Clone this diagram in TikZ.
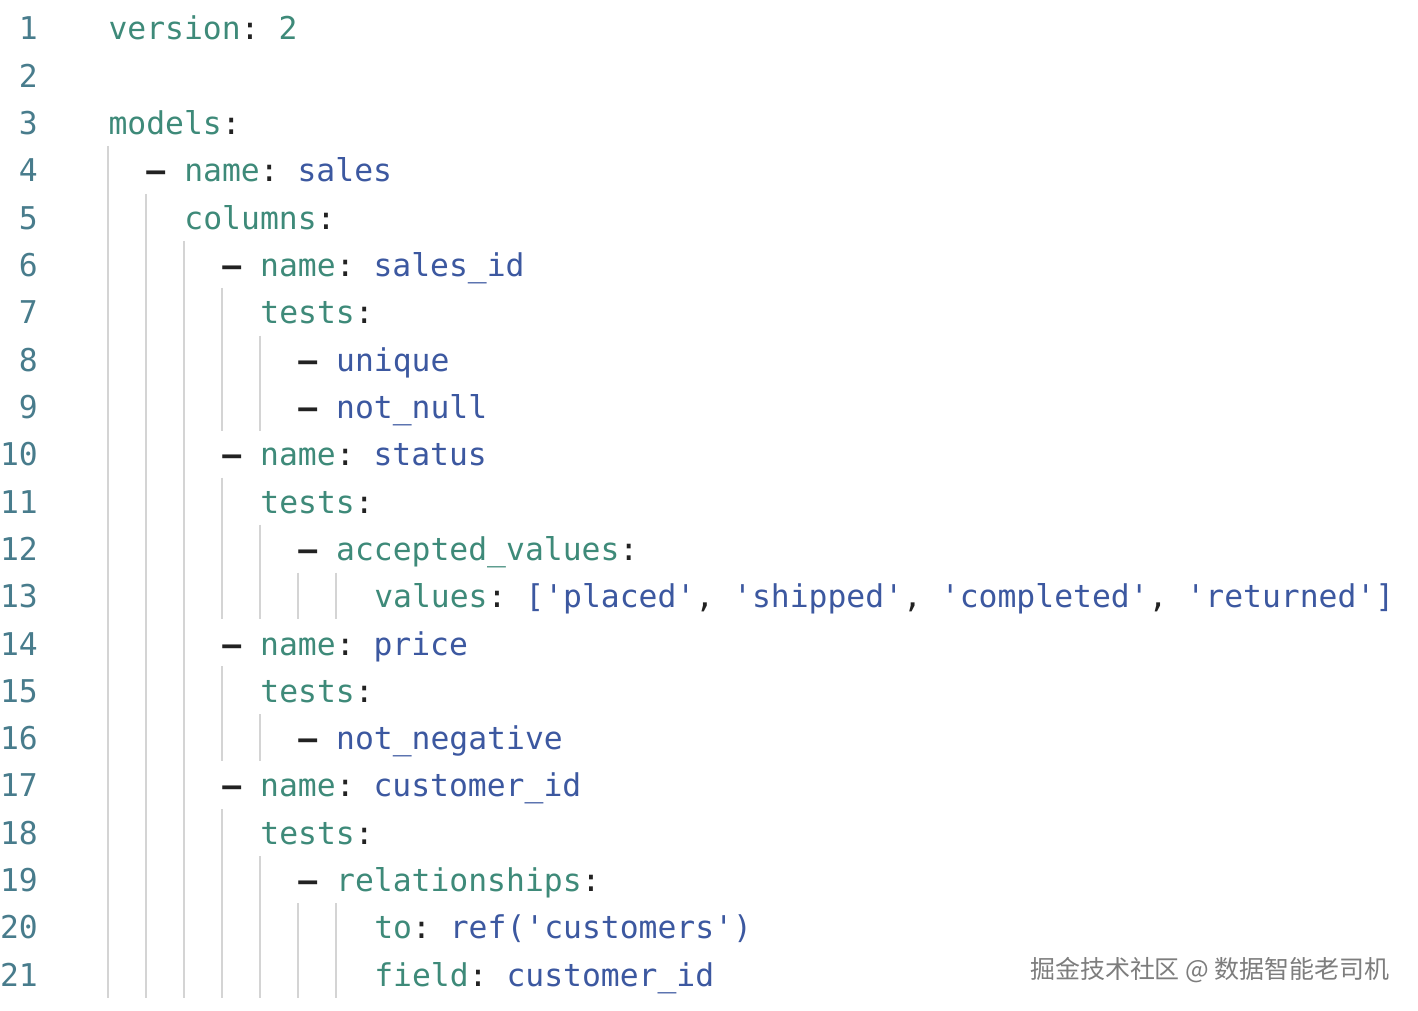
\documentclass[tikz,border=0pt]{standalone}
\usepackage{fontspec}
\newfontfamily\codefont{DejaVu Sans Mono}
\newfontfamily\cjkfont{Noto Sans CJK SC}
\definecolor{ykey}{RGB}{62,138,121}
\definecolor{yval}{RGB}{60,88,160}
\definecolor{ypunct}{RGB}{34,34,34}
\definecolor{lnumcol}{RGB}{72,124,140}
\definecolor{guidecol}{RGB}{212,212,212}
\definecolor{markcol}{RGB}{125,125,125}
\newcommand{\yk}[1]{\textcolor{ykey}{#1}}
\newcommand{\yv}[1]{\textcolor{yval}{#1}}
\newcommand{\ysq}{\textquotesingle}
\newcommand{\ydash}{\textcolor{ypunct}{\bfseries –}}
\frenchspacing
\tikzset{
  code/.style={font=\codefont\fontsize{15.7pt}{18pt}\selectfont, text=ypunct,
    anchor=base west, inner sep=0pt},
  lnum/.style={font=\codefont\fontsize{15.7pt}{18pt}\selectfont, text=lnumcol,
    anchor=base east, inner sep=0pt},
  guide/.style={guidecol, line width=1pt},
}
\begin{document}
\begin{tikzpicture}[x=0.5pt, y=-0.5pt]
            % Фон
            \fill[white] (0, 0) rectangle (1418, 1011);

            % Номера строк
            \foreach \n in {1,...,21}
              \node[lnum] (n\n) at (37, {40 + (\n-1)*47.35}) {\n};

            % Направляющие отступов
            \draw[guide] (107, 146) -- (107, 999);
            \draw[guide] (145, 194) -- (145, 999);
            \draw[guide] (183, 241) -- (183, 999);
            \draw[guide] (221, 288) -- (221, 431);
            \draw[guide] (221, 478) -- (221, 620);
            \draw[guide] (221, 667) -- (221, 762);
            \draw[guide] (221, 810) -- (221, 999);
            \draw[guide] (259, 336) -- (259, 431);
            \draw[guide] (259, 525) -- (259, 620);
            \draw[guide] (259, 715) -- (259, 762);
            \draw[guide] (259, 857) -- (259, 999);
            \draw[guide] (297, 573) -- (297, 620);
            \draw[guide] (297, 904) -- (297, 999);
            \draw[guide] (335, 573) -- (335, 620);
            \draw[guide] (335, 904) -- (335, 999);

            % Код
            \node[code] (l1) at (107, 40) {\yk{version}: \yk{2}};
            \node[code] (l3) at (107, 134.7) {\yk{models}:};
            \node[code] (l4) at (145, 182.05) {\ydash{} \yk{name}: \yv{sales}};
            \node[code] (l5) at (183, 229.4) {\yk{columns}:};
            \node[code] (l6) at (221, 276.75) {\ydash{} \yk{name}: \yv{sales\_id}};
            \node[code] (l7) at (259, 324.1) {\yk{tests}:};
            \node[code] (l8) at (297, 371.45) {\ydash{} \yv{unique}};
            \node[code] (l9) at (297, 418.8) {\ydash{} \yv{not\_null}};
            \node[code] (l10) at (221, 466.15) {\ydash{} \yk{name}: \yv{status}};
            \node[code] (l11) at (259, 513.5) {\yk{tests}:};
            \node[code] (l12) at (297, 560.85) {\ydash{} \yk{accepted\_values}:};
            \node[code] (l13) at (373, 608.2) {\yk{values}: \yv{[\ysq placed\ysq}, \yv{\ysq shipped\ysq}, \yv{\ysq completed\ysq}, \yv{\ysq returned\ysq]}};
            \node[code] (l14) at (221, 655.55) {\ydash{} \yk{name}: \yv{price}};
            \node[code] (l15) at (259, 702.9) {\yk{tests}:};
            \node[code] (l16) at (297, 750.25) {\ydash{} \yv{not\_negative}};
            \node[code] (l17) at (221, 797.6) {\ydash{} \yk{name}: \yv{customer\_id}};
            \node[code] (l18) at (259, 844.95) {\yk{tests}:};
            \node[code] (l19) at (297, 892.3) {\ydash{} \yk{relationships}:};
            \node[code] (l20) at (373, 939.65) {\yk{to}: \yv{ref(\ysq customers\ysq)}};
            \node[code] (l21) at (373, 987) {\yk{field}: \yv{customer\_id}};

            % Подпись
            \node[font=\cjkfont\fontsize{12.5pt}{15pt}\selectfont, text=markcol,
              anchor=base east, inner sep=0pt] (mark) at (1390, 979)
              {掘金技术社区 @ 数据智能老司机};

        \end{tikzpicture}
\end{document}
